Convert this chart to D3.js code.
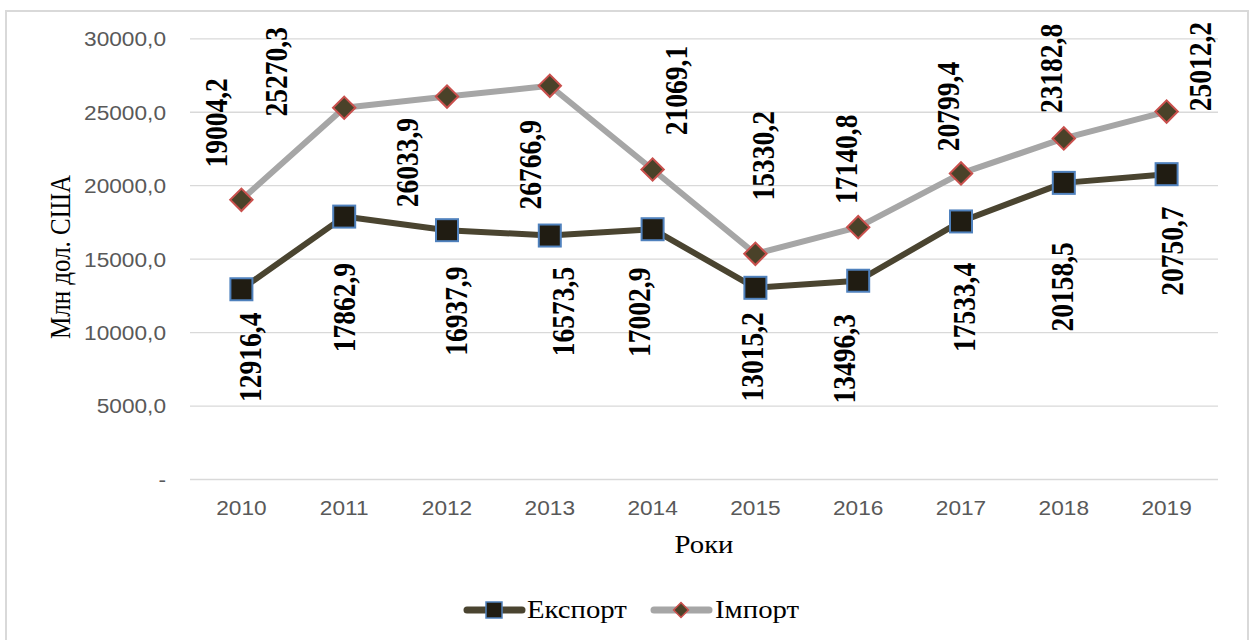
<!DOCTYPE html>
<html>
<head>
<meta charset="utf-8">
<script src="https://cdn.jsdelivr.net/npm/d3@7"></script>
<style>
  html, body { margin: 0; padding: 0; background: #ffffff; }
  svg { display: block; }
</style>
</head>
<body>
<svg id="chart" width="1252" height="640"></svg>
<script>
// Years on the category axis
const years = ['2010', '2011', '2012', '2013', '2014', '2015', '2016', '2017', '2018', '2019'];
// Export and import, million USD
const exportValues = [12916.4, 17862.9, 16937.9, 16573.5, 17002.9, 13015.2, 13496.3, 17533.4, 20158.5, 20750.7];
const importValues = [19004.2, 25270.3, 26033.9, 26766.9, 21069.1, 15330.2, 17140.8, 20799.4, 23182.8, 25012.2];
// Value axis ticks
const yTicks = [0, 5000, 10000, 15000, 20000, 25000, 30000];
const seriesNames = ['Експорт', 'Імпорт'];

// Hand-placed value label offsets (px from the marker)
const importLabelShift = [[-25, -77], [-68, -36], [-40, 66], [-19, 79], [24, -79], [8, -98], [-12, -68], [-13, -67], [-12, -70], [34, -45]];
const exportLabelShift = [[9, 68], [0, 91], [9, 81], [14, 76], [-13, 83], [-3, 69], [-14, 78], [3, 86], [-1, 104], [6, 77]];

const svg = d3.select('#chart');
const STRETCH = 1.15;           // glyphs are drawn slightly wide
const plotLeft = 190, plotRight = 1218, plotTop = 38.3, plotBottom = 479;

const x = d3.scaleBand().domain(years).range([plotLeft, plotRight]);
const cx = d => x(d) + x.bandwidth() / 2;
const y = d3.scaleLinear().domain([0, 30000]).range([plotBottom, plotTop]);

const fmt = v => d3.format('.1f')(v).replace('.', ',');

// Chart frame
svg.append('rect')
  .attr('x', 6).attr('y', 11).attr('width', 1242).attr('height', 640)
  .attr('fill', '#ffffff').attr('stroke', '#d9d9d9').attr('stroke-width', 2);

// Value axis with gridlines
const yAxis = svg.append('g')
  .attr('transform', `translate(${plotLeft},0)`)
  .call(d3.axisLeft(y).tickValues(yTicks).tickSize(-(plotRight - plotLeft)).tickPadding(0)
    .tickFormat(v => v === 0 ? '-' : fmt(v)));
yAxis.select('.domain').remove();
yAxis.selectAll('.tick line').attr('stroke', '#d9d9d9').attr('stroke-width', 1.3);
yAxis.selectAll('.tick text')
  .attr('x', null).attr('dy', '0.35em')
  .attr('transform', 'translate(-24,0) scale(1.08,1)')
  .attr('fill', '#595959')
  .style('font-family', '"Liberation Sans", Arial, sans-serif')
  .style('font-size', '21px');

// Category axis labels
const xAxis = svg.append('g')
  .attr('transform', `translate(0,${plotBottom})`)
  .call(d3.axisBottom(x).tickSize(0).tickPadding(21));
xAxis.select('.domain').remove();
xAxis.selectAll('.tick text')
  .attr('transform', 'scale(1.08,1)')
  .attr('x', 0)
  .attr('fill', '#595959')
  .style('font-family', '"Liberation Sans", Arial, sans-serif')
  .style('font-size', '21px');

// Axis titles
const serif = '"Liberation Serif", "Times New Roman", serif';
svg.append('text')
  .attr('transform', `translate(60,257) scale(${STRETCH},1) rotate(-90)`)
  .attr('text-anchor', 'middle').attr('dominant-baseline', 'central')
  .style('font-family', serif).style('font-size', '25px').attr('fill', '#000')
  .text('Млн дол. США');
svg.append('text')
  .attr('transform', `translate(704,553) scale(${STRETCH},1)`)
  .attr('text-anchor', 'middle')
  .style('font-family', serif).style('font-size', '25px').attr('fill', '#000')
  .text('Роки');

// Lines
const line = d3.line().x((d, i) => cx(years[i])).y(d => y(d));
svg.append('path').datum(importValues)
  .attr('d', line).attr('fill', 'none')
  .attr('stroke', '#a6a6a6').attr('stroke-width', 6).attr('stroke-linejoin', 'round').attr('stroke-linecap', 'round');
svg.append('path').datum(exportValues)
  .attr('d', line).attr('fill', 'none')
  .attr('stroke', '#4a4430').attr('stroke-width', 6).attr('stroke-linejoin', 'round').attr('stroke-linecap', 'round');

// Markers
const diamond = d3.symbol().type(d3.symbolSquare).size(250);
svg.append('g').selectAll('path').data(importValues).join('path')
  .attr('d', diamond)
  .attr('transform', (d, i) => `translate(${cx(years[i])},${y(d)}) rotate(45)`)
  .attr('fill', '#4a4229').attr('stroke', '#c9504d').attr('stroke-width', 2);
svg.append('g').selectAll('rect').data(exportValues).join('rect')
  .attr('x', (d, i) => cx(years[i]) - 11).attr('y', d => y(d) - 11)
  .attr('width', 22).attr('height', 22)
  .attr('fill', '#201c12').attr('stroke', '#4f81bd').attr('stroke-width', 2);

// Value labels (vertical, bold)
function valueLabels(values, shifts) {
  svg.append('g').selectAll('text').data(values).join('text')
    .attr('transform', (d, i) =>
      `translate(${cx(years[i]) + shifts[i][0]},${y(d) + shifts[i][1]}) scale(${STRETCH},1) rotate(-90)`)
    .attr('text-anchor', 'middle').attr('dominant-baseline', 'central')
    .style('font-family', serif).style('font-weight', 'bold').style('font-size', '27.5px')
    .attr('fill', '#000')
    .text(d => fmt(d));
}
valueLabels(importValues, importLabelShift);
valueLabels(exportValues, exportLabelShift);

// Legend
const legend = svg.append('g');
const lgY = 610;
// Експорт
legend.append('line').attr('x1', 467).attr('x2', 522).attr('y1', lgY).attr('y2', lgY)
  .attr('stroke', '#4a4430').attr('stroke-width', 7).attr('stroke-linecap', 'round');
legend.append('rect').attr('x', 486).attr('y', lgY - 8).attr('width', 16).attr('height', 16)
  .attr('fill', '#201c12').attr('stroke', '#4f81bd').attr('stroke-width', 1.5);
legend.append('text').attr('transform', `translate(527,${lgY + 8}) scale(${STRETCH},1)`)
  .style('font-family', serif).style('font-size', '25px').attr('fill', '#000')
  .text(seriesNames[0]);
// Імпорт
legend.append('line').attr('x1', 654).attr('x2', 709).attr('y1', lgY).attr('y2', lgY)
  .attr('stroke', '#a6a6a6').attr('stroke-width', 7).attr('stroke-linecap', 'round');
legend.append('path').attr('d', d3.symbol().type(d3.symbolSquare).size(110))
  .attr('transform', `translate(681,${lgY}) rotate(45)`)
  .attr('fill', '#4a4229').attr('stroke', '#c9504d').attr('stroke-width', 1.5);
legend.append('text').attr('transform', `translate(715,${lgY + 8}) scale(${STRETCH},1)`)
  .style('font-family', serif).style('font-size', '25px').attr('fill', '#000')
  .text(seriesNames[1]);
</script>
</body>
</html>
